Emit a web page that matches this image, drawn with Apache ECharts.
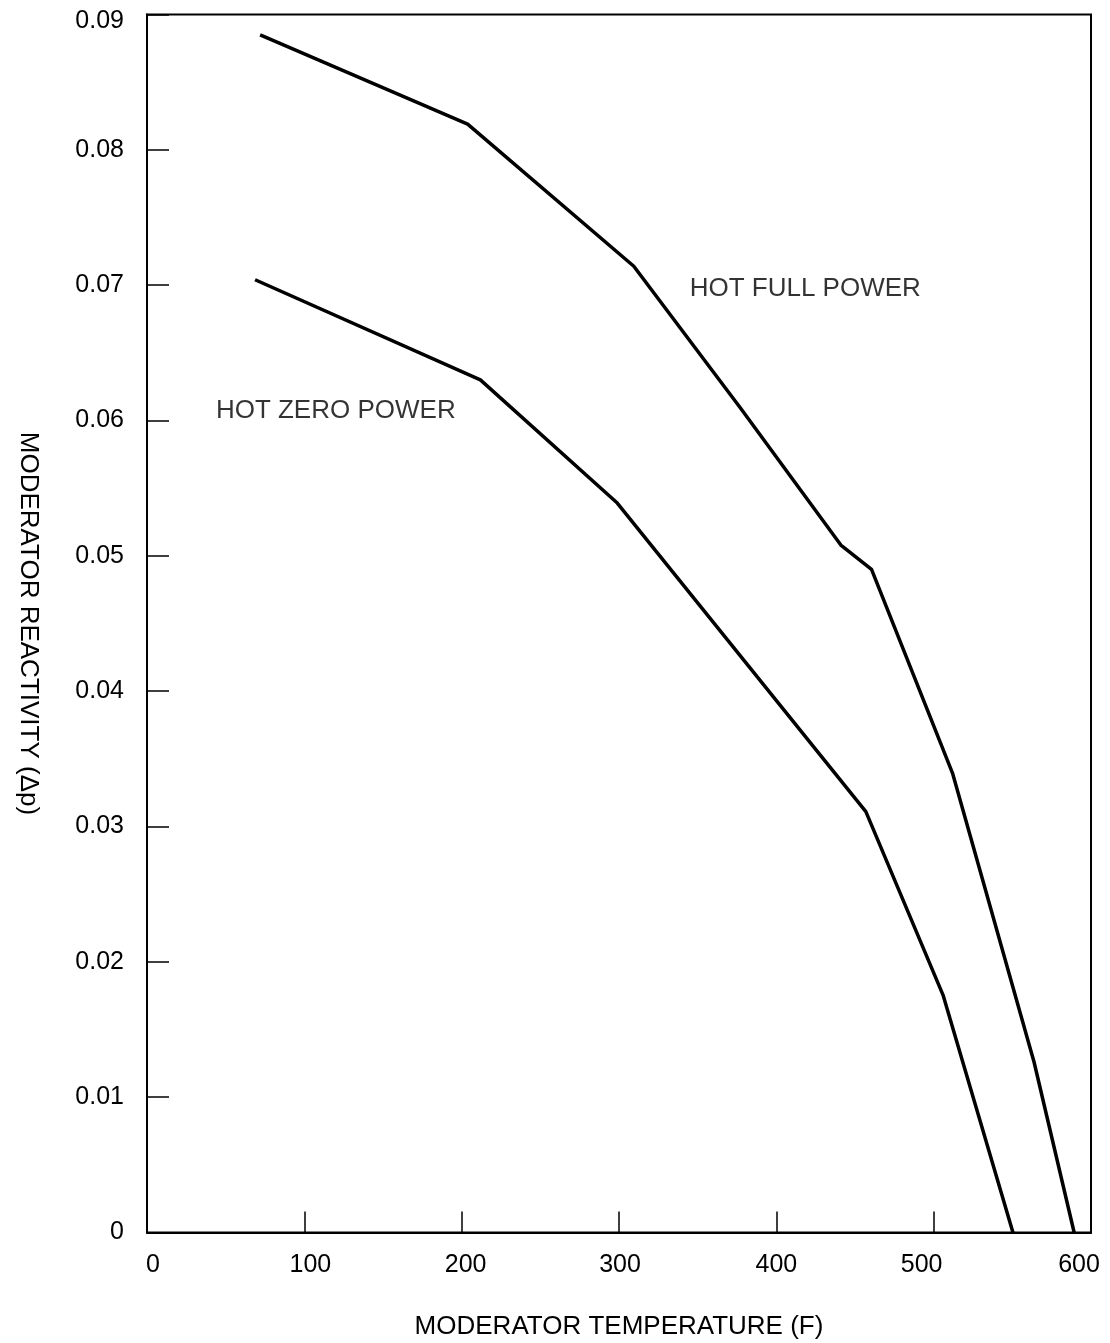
<!DOCTYPE html>
<html>
<head>
<meta charset="utf-8">
<script src="https://cdn.jsdelivr.net/npm/echarts@6/dist/echarts.min.js"></script>
<style>
html,body{margin:0;padding:0;background:#fff;}
#chart{width:1110px;height:1343px;}
</style>
</head>
<body>
<div id="chart"></div>
<script>
// Data (moderator temperature F, reactivity Δρ)
var hotFullPowerT = [71.9, 203.8, 309.4, 377.3, 441.0, 460.5, 512.1, 563.8, 589.3];
var hotFullPowerR = [0.0885, 0.0819, 0.0714, 0.0609, 0.0508, 0.0490, 0.0339, 0.0126, 0.0];
var hotZeroPowerT = [68.7, 211.9, 298.9, 456.9, 506.1, 550.4];
var hotZeroPowerR = [0.0704, 0.0630, 0.0539, 0.0311, 0.0175, 0.0];
var xTicks = [0, 100, 200, 300, 400, 500, 600];
var yTicks = [0, 0.01, 0.02, 0.03, 0.04, 0.05, 0.06, 0.07, 0.08, 0.09];
var seriesNames = ['HOT FULL POWER', 'HOT ZERO POWER'];
var labelAnchors = [[418.7, 0.0697], [120.3, 0.0607]];

function pairs(xs, ys) { return xs.map(function (x, i) { return [x, ys[i]]; }); }

var font = 'Liberation Sans, Arial, sans-serif';
// label nudges (styling only): horizontal shift of x tick labels in px
var xShift = { '0': 6, '100': 6, '200': 4, '300': 1, '400': 0, '500': -12, '600': -12 };
var xRich = {};
Object.keys(xShift).forEach(function (k) {
  var s = xShift[k];
  xRich['x' + k] = { fontFamily: font, fontSize: 25, color: '#000',
    padding: s >= 0 ? [0, 0, 0, 2 * s] : [0, -2 * s, 0, 0] };
});

var chart = echarts.init(document.getElementById('chart'));
chart.setOption({
  animation: false,
  backgroundColor: '#fff',
  grid: {
    left: 147, right: 19, top: 14.5, bottom: 110.5,
    containLabel: false, outerBoundsMode: 'none',
    show: true, borderColor: '#000', borderWidth: 2, backgroundColor: 'transparent'
  },
  xAxis: {
    type: 'value', min: xTicks[0], max: xTicks[xTicks.length - 1], interval: 100,
    name: 'MODERATOR TEMPERATURE (F)', nameLocation: 'middle', nameGap: 81,
    nameTextStyle: { fontFamily: font, fontSize: 26, color: '#000' },
    axisLine: { show: true, lineStyle: { color: '#000', width: 2 } },
    axisTick: { show: true, inside: true, length: 21, lineStyle: { color: '#000', width: 1.5 } },
    axisLabel: { fontFamily: font, fontSize: 25, color: '#000', margin: 20,
      formatter: function (v) { var k = String(v); return '{x' + k + '|' + k + '}'; },
      rich: xRich },
    splitLine: { show: false }
  },
  yAxis: {
    type: 'value', min: yTicks[0], max: yTicks[yTicks.length - 1], interval: 0.01,
    name: 'MODERATOR REACTIVITY (\u0394p)', nameLocation: 'middle', nameGap: 106, nameRotate: -90,
    nameTextStyle: { fontFamily: font, fontSize: 26, color: '#000' },
    axisLine: { show: true, lineStyle: { color: '#000', width: 2 } },
    axisTick: { show: true, inside: true, length: 22, lineStyle: { color: '#000', width: 1.5 } },
    axisLabel: { fontFamily: font, fontSize: 25, color: '#000', margin: 23,
      formatter: function (v) {
        if (v === 0) return '0';
        var s = v.toFixed(2);
        return Math.abs(v - 0.09) < 1e-9 ? '{top|' + s + '}' : s;
      },
      rich: { top: { fontFamily: font, fontSize: 25, color: '#000', padding: [14, 0, 0, 0] } } },
    splitLine: { show: false }
  },
  series: [
    {
      name: seriesNames[0], type: 'line', showSymbol: false, symbol: 'none',
      data: pairs(hotFullPowerT, hotFullPowerR),
      lineStyle: { color: '#000', width: 3.5 }
    },
    {
      name: seriesNames[1], type: 'line', showSymbol: false, symbol: 'none',
      data: pairs(hotZeroPowerT, hotZeroPowerR),
      lineStyle: { color: '#000', width: 3.5 }
    },
    {
      type: 'scatter', symbolSize: 1, silent: true,
      itemStyle: { color: 'rgba(0,0,0,0)' },
      data: labelAnchors.map(function (p, i) { return { value: p, name: seriesNames[i] }; }),
      label: {
        show: true, position: [0, 0], align: 'center', verticalAlign: 'middle',
        formatter: '{b}', fontFamily: font, fontSize: 26, color: '#000',
        textBorderWidth: 0
      }
    }
  ]
});
</script>
</body>
</html>
